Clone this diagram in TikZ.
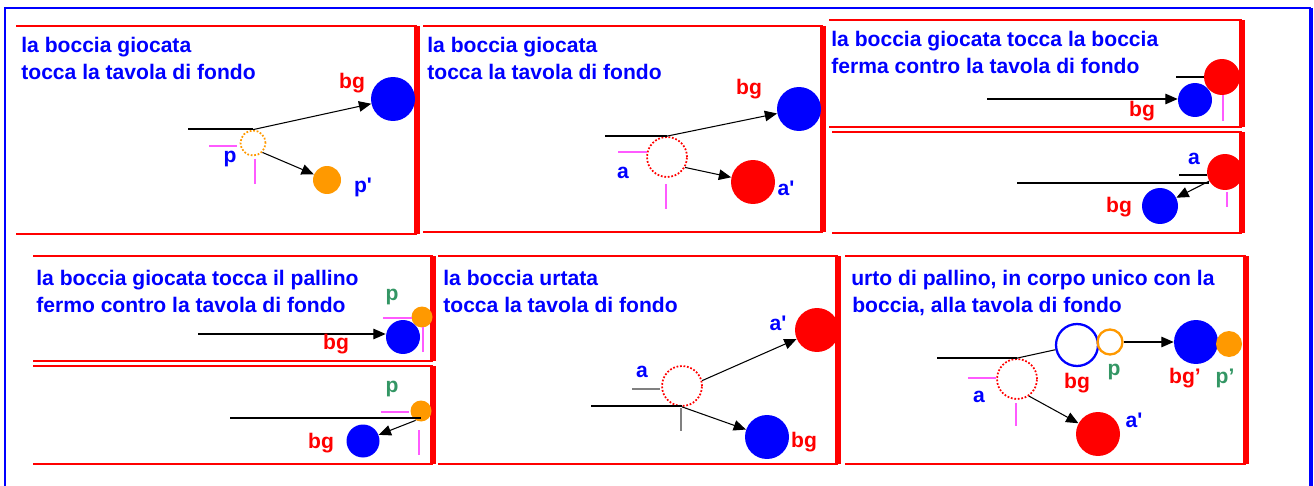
\documentclass[tikz,border=0pt]{standalone}
\usepackage{fontspec}
\setmainfont{Liberation Sans}
\usetikzlibrary{arrows.meta}
\definecolor{ballorange}{RGB}{255,153,0}
\definecolor{tickpink}{RGB}{255,90,255}
\definecolor{labgreen}{RGB}{51,150,100}
\begin{document}
\begin{tikzpicture}[x=0.02cm, y=-0.02cm, font=\fontsize{12}{14}\selectfont\bfseries,
  frame/.style={red, line width=1.1pt},
  wall/.style={red, line width=3pt},
  ball/.style={circle, fill=#1, inner sep=0pt},
  big/.style={minimum size=0.88cm},
  ghost/.style={circle, draw=#1, densely dotted, line width=1pt, inner sep=0pt, minimum size=0.8cm},
  ring/.style={circle, draw=#1, line width=1.3pt, inner sep=0pt},
  track/.style={black, line width=0.6pt},
  shot/.style={black, line width=0.6pt, -{Triangle[length=7pt,width=6pt]}},
  tick/.style={tickpink, line width=0.8pt},
  title/.style={blue, anchor=base west, inner sep=0pt},
  lab/.style={text=#1, inner sep=0pt}]
\useasboundingbox (0,0) rectangle (1314,486);
% outer frame
\draw[blue, line width=1.2pt] (5,490) -- (5,8) -- (1311,8);
\draw[blue, line width=2pt] (1311,8) -- (1311,490);
% panels
\foreach \xa/\xb/\ya/\yb in {16/417/26/234, 423/823/26/232, 829/1242/20/127, 832/1242/132/233,
  33/433/256/361, 33/433/366/464, 438/838/256/464, 845/1246/256/464}
{
  \draw[frame] (\xa,\ya) -- (\xb,\ya);
  \draw[frame] (\xa,\yb) -- (\xb,\yb);
  \draw[wall] (\xb,\ya) -- (\xb,\yb);
}
\node[title] (t1a) at (21,53) {la boccia giocata};
\node[title] (t1b) at (21,80) {tocca la tavola di fondo};
\node[title] (t2a) at (427,53) {la boccia giocata};
\node[title] (t2b) at (427,80) {tocca la tavola di fondo};
\node[title] (t3a) at (831,47) {la boccia giocata tocca la boccia};
\node[title] (t3b) at (831,74) {ferma contro la tavola di fondo};
\node[title] (t4a) at (36,285) {la boccia giocata tocca il pallino};
\node[title] (t4b) at (36,312) {fermo contro la tavola di fondo};
\node[title] (t5a) at (443,285) {la boccia urtata};
\node[title] (t5b) at (443,312) {tocca la tavola di fondo};
\node[title] (t6a) at (851,285) {urto di pallino, in corpo unico con la};
\node[title] (t6b) at (852,312) {boccia, alla tavola di fondo};

% panel 1
\node[ball=blue, big] (bg1) at (393,99) {};
\node[ghost=ballorange, minimum size=0.5cm] (p1) at (253,143) {};
\node[ball=ballorange, minimum size=0.56cm] (pp1) at (327,180) {};
\coordinate (in1) at (188,129);
\draw[track] (in1) -- (in1 -| p1.north);
\draw[shot] (p1.north) -- (bg1);
\draw[shot] (p1.-45) -- (pp1);
\draw[tick] (209,146) -- (237,146);
\draw[tick] (255,159) -- (255,184);
\node[lab=red] (lbg1) at (352,83) {bg};
\node[lab=blue] (lp1) at (230,159) {p};
\node[lab=blue] (lpp1) at (363,187) {p\textquotesingle};

% panel 2
\node[ball=blue, big] (bg2) at (799,109) {};
\node[ghost=red] (a2) at (667,157) {};
\node[ball=red, big] (aa2) at (753,182) {};
\coordinate (in2) at (605,136);
\draw[track] (in2) -- (in2 -| a2.north);
\draw[shot] (a2.north) -- (bg2);
\draw[shot] (a2.-30) -- (aa2);
\draw[tick] (618,152) -- (647,152);
\draw[tick] (666,184) -- (666,209);
\node[lab=red] (lbg2) at (749,89) {bg};
\node[lab=blue] (la2) at (623,173) {a};
\node[lab=blue] (laa2) at (786,188) {a\textquotesingle};

% panel 3, top
\node[ball=red, minimum size=0.72cm] (a3) at (1222,77) {};
\node[ball=blue, minimum size=0.68cm] (bg3) at (1195,100) {};
\coordinate (rest3) at (1176,77);
\draw[track] (rest3) -- (a3);
\coordinate (in3) at (987,99);
\draw[shot] (in3) -- (in3 -| bg3.west);
\draw[tick] (1223,95) -- (1223,121);
\node[lab=red] (lbg3) at (1142,111) {bg};

% panel 3, bottom
\node[ball=red, minimum size=0.72cm] (a3b) at (1225,172) {};
\node[ball=blue, minimum size=0.72cm] (bg3b) at (1160,206) {};
\coordinate (rest3b) at (1179,175);
\draw[track] (rest3b) -- (rest3b -| a3b.west);
\coordinate (in3b) at (1017,183);
\draw[track] (in3b) -- (in3b -| a3b.-150);
\draw[shot] (a3b.-150) -- (bg3b);
\draw[tick] (1227,192) -- (1227,207);
\node[lab=blue] (la3b) at (1194,159) {a};
\node[lab=red] (lbg3b) at (1119,207) {bg};

% panel 4, top
\node[ball=ballorange, minimum size=0.42cm] (p4) at (422,317) {};
\node[ball=blue, minimum size=0.68cm] (bg4) at (403,337) {};
\draw[tick] (383,318) -- (412,318);
\draw[tick] (423,327) -- (423,352);
\coordinate (in4) at (198,334);
\draw[shot] (in4) -- (in4 -| bg4.west);
\node[lab=labgreen] (lp4) at (392,297) {p};
\node[lab=red] (lbg4) at (336,344) {bg};

% panel 4, bottom
\node[ball=ballorange, minimum size=0.42cm] (p4b) at (421,411) {};
\node[ball=blue, minimum size=0.66cm] (bg4b) at (363,441) {};
\draw[tick] (381,412) -- (409,412);
\draw[tick] (419,430) -- (419,455);
\coordinate (in4b) at (230,418);
\draw[track] (in4b) -- (in4b -| p4b);
\draw[shot] (p4b.-120) -- (bg4b);
\node[lab=labgreen] (lp4b) at (392,389) {p};
\node[lab=red] (lbg4b) at (321,443) {bg};

% panel 5
\node[ghost=red] (a5) at (682,386) {};
\node[ball=red, big] (aa5) at (817,330) {};
\node[ball=blue, big] (bg5) at (767,437) {};
\draw[gray, line width=0.8pt] (632,389) -- (660,389);
\draw[gray, line width=0.8pt] (681,408) -- (681,431);
\coordinate (in5) at (591,406);
\draw[track] (in5) -- (in5 -| a5.south);
\draw[shot] (a5.15) -- (aa5);
\draw[shot] (a5.south) -- (bg5);
\node[lab=blue] (laa5) at (778,323) {a\textquotesingle};
\node[lab=blue] (la5) at (642,372) {a};
\node[lab=red] (lbg5) at (804,442) {bg};

% panel 6
\node[ghost=red] (a6) at (1017,379) {};
\node[ring=blue, minimum size=0.84cm] (bg6) at (1077,345) {};
\node[ring=ballorange, minimum size=0.5cm] (p6) at (1110,342) {};
\node[ball=blue, big] (bgg6) at (1196,342) {};
\node[ball=ballorange, minimum size=0.52cm] (pp6) at (1229,344) {};
\node[ball=red, big] (aa6) at (1098,434) {};
\coordinate (in6) at (937,358);
\draw[track] (in6) -- (in6 -| a6.north);
\draw[track] (a6.north) -- (bg6);
\draw[shot] (p6.east) -- (bgg6);
\draw[shot] (a6.-55) -- (aa6);
\draw[tick] (968,378) -- (996,378);
\draw[tick] (1016,403) -- (1016,426);
\node[lab=red] (lbg6) at (1077,383) {bg};
\node[lab=labgreen] (lp6) at (1114,372) {p};
\node[lab=red] (lbgg6) at (1185,378) {bg’};
\node[lab=labgreen] (lpp6) at (1225,378) {p’};
\node[lab=blue] (la6) at (979,397) {a};
\node[lab=blue] (laa6) at (1134,420) {a\textquotesingle};
\end{tikzpicture}
\end{document}
